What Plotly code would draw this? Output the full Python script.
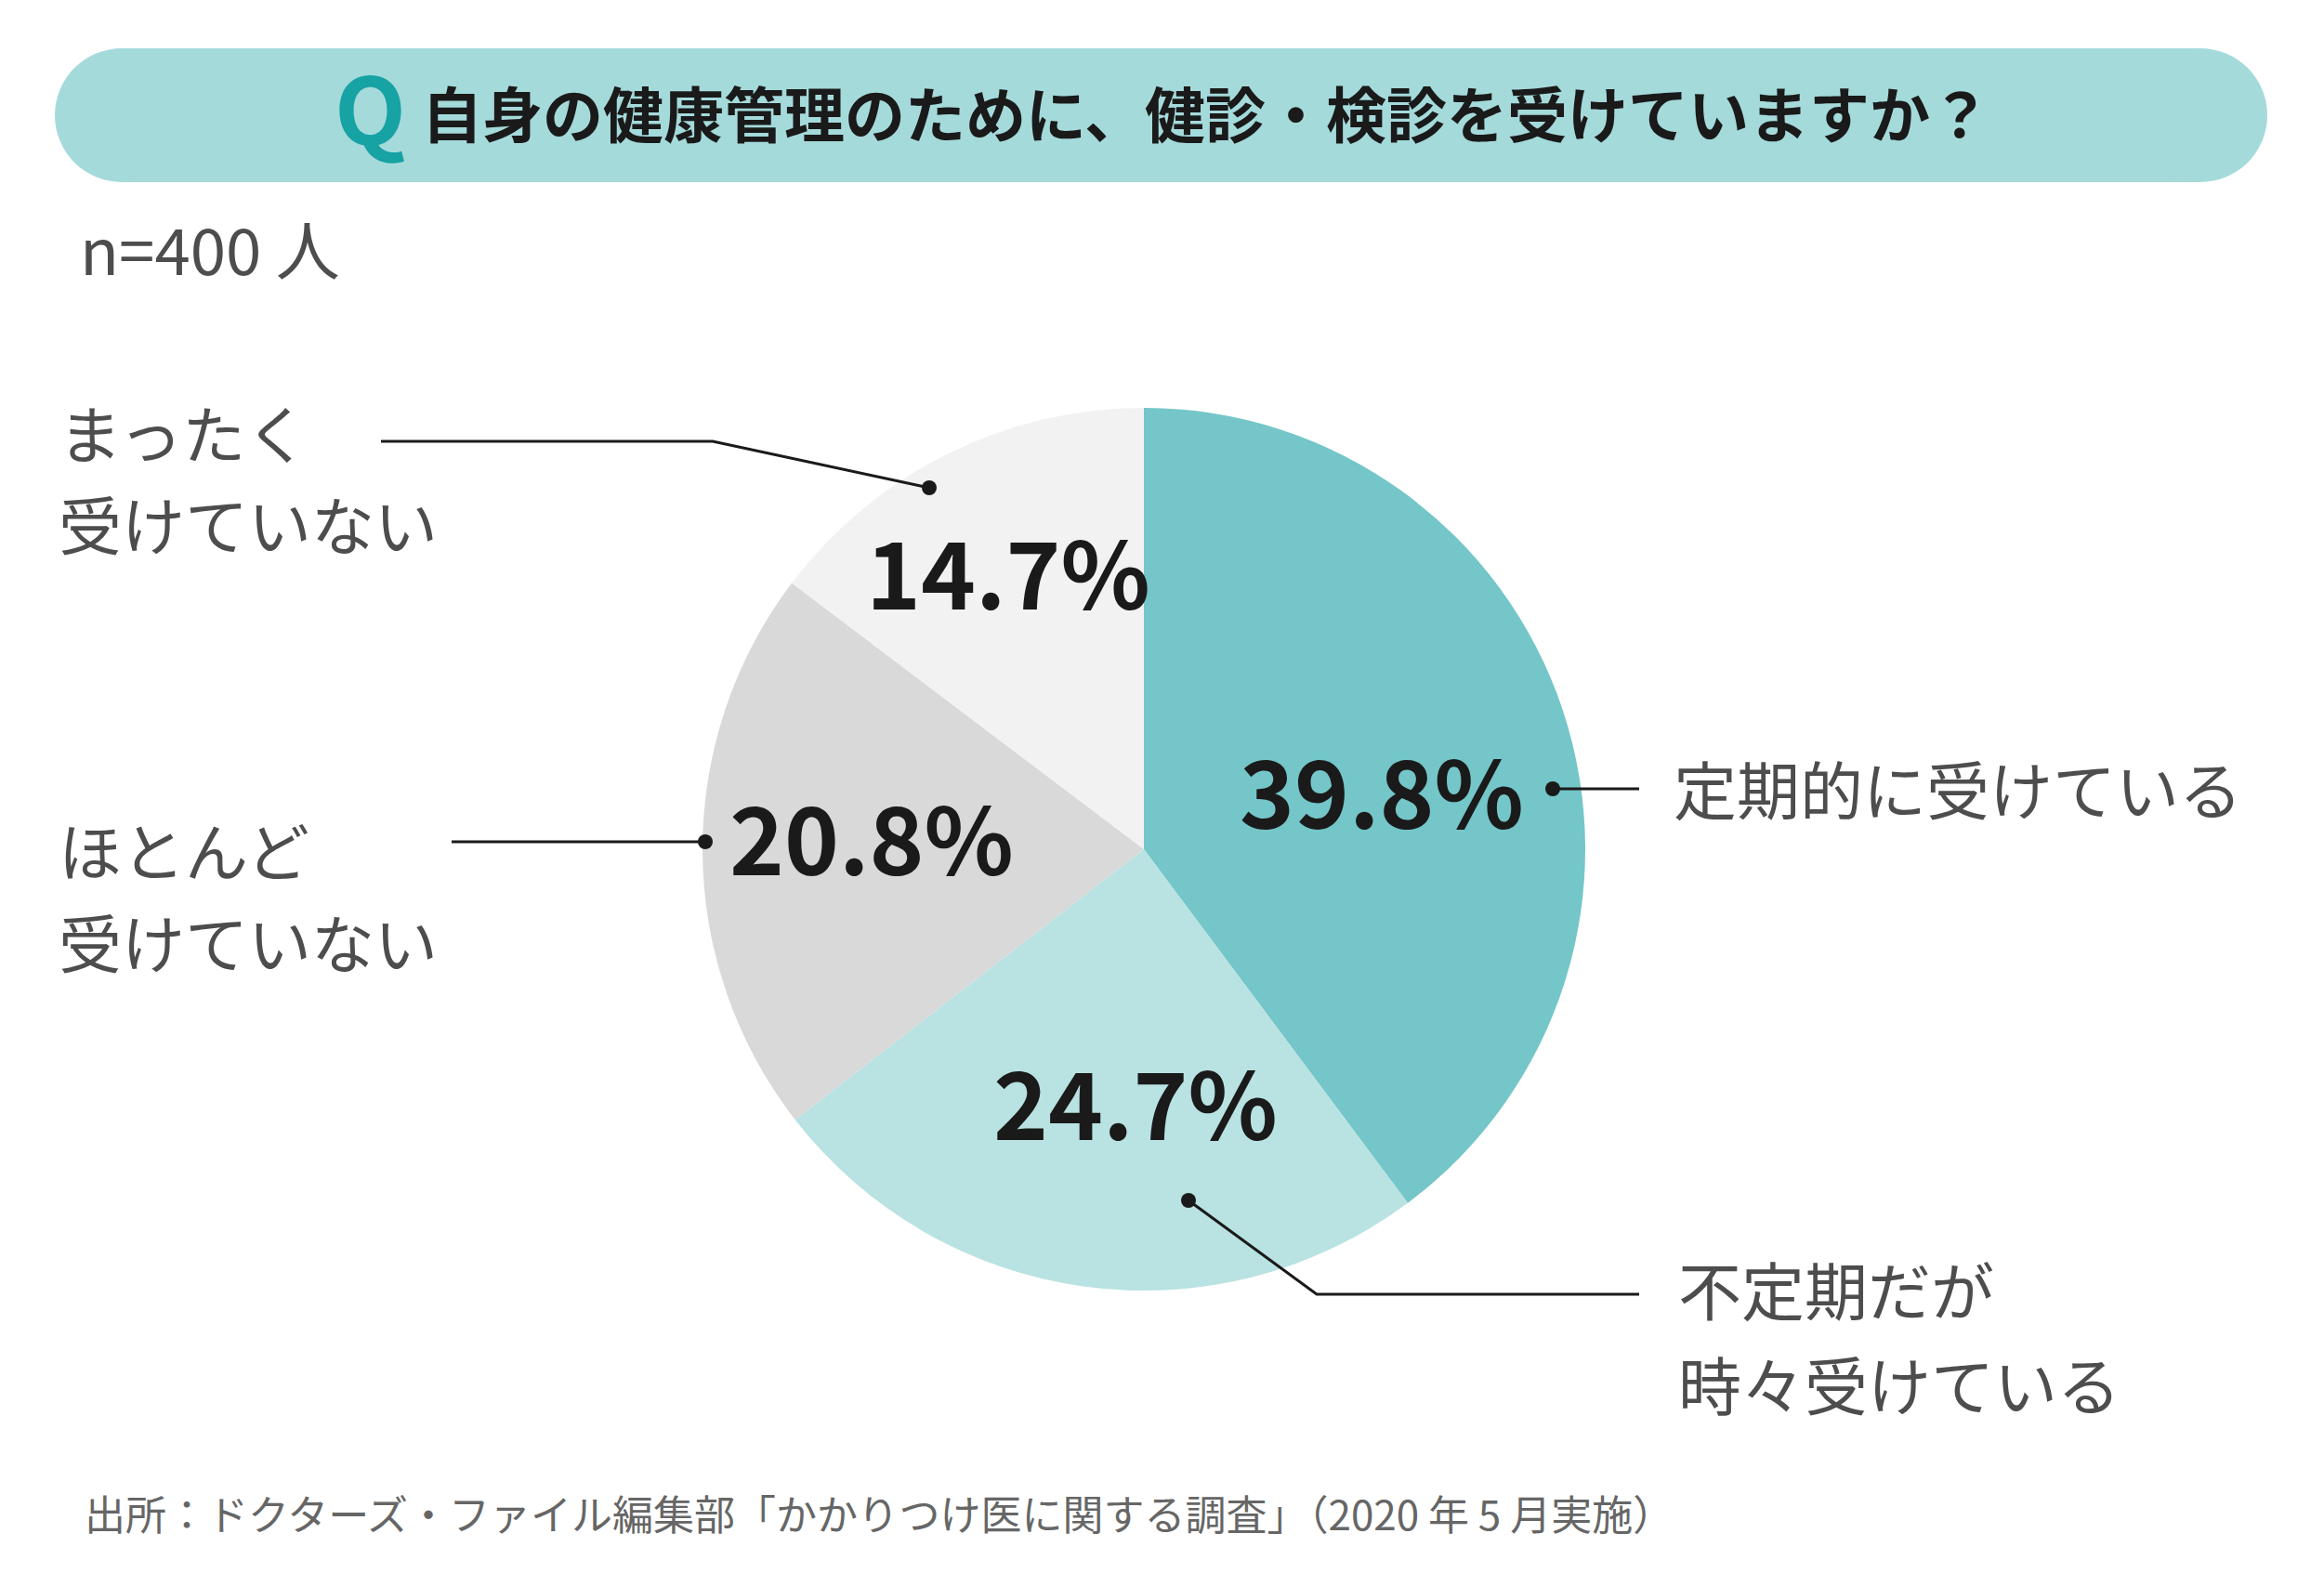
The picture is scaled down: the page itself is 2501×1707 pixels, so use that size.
import plotly.graph_objects as go

# ---- data ----
categories = ["定期的に受けている", "不定期だが時々受けている", "ほとんど受けていない", "まったく受けていない"]
values = [39.8, 24.7, 20.8, 14.7]
label_lines = [["定期的に受けている"], ["不定期だが", "時々受けている"], ["ほとんど", "受けていない"], ["まったく", "受けていない"]]
title_text = "自身の健康管理のために、健診・検診を受けていますか？"
sample_text = "n=400 人"
source_text = "出所：ドクターズ・ファイル編集部「かかりつけ医に関する調査」（2020 年 5 月実施）"

# ---- style / layout ----
W, H = 2501, 1707
OFF = 8      # page body margin
TY = -6      # text baseline correction
colors = ["#74C6C8", "#B9E2E2", "#D9D9D9", "#F2F2F2"]
FONT = "Noto Sans CJK JP, Noto Sans, sans-serif"
cx, cy, R = 1231, 914, 475

def px(x):
    return (x - OFF) / W

def py(y):
    return 1 - (y - OFF) / H

def ty(y):
    return py(y + TY)

# percent label centers (pixels)
pct_pos = [(1487, 854), (1222, 1189), (938, 904), (1085, 618)]
# category label anchors: (x, [y per line], anchor)
cat_pos = [(1799, [853], "left"), (1804, [1392, 1494], "left"),
           (61, [920, 1018], "left"), (61, [470, 568], "left")]
# leader lines (pixel polylines), dot at first point
leaders = [
    [(1671, 849), (1764, 849)],
    [(1279, 1292), (1417, 1393), (1764, 1393)],
    [(759, 906), (486, 906)],
    [(1000, 525), (767, 475), (410, 475)],
]

fig = go.Figure()
fig.add_trace(go.Pie(
    labels=categories, values=values, sort=False, direction="clockwise", rotation=0,
    marker=dict(colors=colors, line=dict(width=0)),
    textinfo="none", hoverinfo="skip", showlegend=False,
    domain=dict(x=[px(cx - R), px(cx + R)], y=[py(cy + R), py(cy - R)]),
))

shapes = []
# title band (pill)
band_l, band_r, band_t, band_b = 59, 2440, 52, 196
rr = (band_b - band_t) / 2
band_col = "#A5DADB"
shapes.append(dict(type="rect", xref="paper", yref="paper", x0=px(band_l + rr), x1=px(band_r - rr),
                   y0=py(band_b), y1=py(band_t), fillcolor=band_col, line=dict(width=0), layer="below"))
for ccx in (band_l + rr, band_r - rr):
    shapes.append(dict(type="circle", xref="paper", yref="paper", x0=px(ccx - rr), x1=px(ccx + rr),
                       y0=py(band_b), y1=py(band_t), fillcolor=band_col, line=dict(width=0), layer="below"))

for pts in leaders:
    path = "M " + " L ".join(f"{px(x)},{py(y)}" for x, y in pts)
    shapes.append(dict(type="path", xref="paper", yref="paper", path=path,
                       line=dict(color="#1a1a1a", width=3)))
    dx, dy = pts[0]
    r = 8
    shapes.append(dict(type="circle", xref="paper", yref="paper", x0=px(dx - r), x1=px(dx + r),
                       y0=py(dy + r), y1=py(dy - r), fillcolor="#1a1a1a", line=dict(width=0)))

annotations = []
# Q and title
annotations.append(dict(text="<b>Q</b>", x=px(398), y=ty(118), xref="paper", yref="paper",
                        showarrow=False, xanchor="center", yanchor="middle",
                        font=dict(family=FONT, size=100, color="#17A2A3")))
annotations.append(dict(text="<b>" + title_text + "</b>", x=px(452), y=ty(126), xref="paper", yref="paper",
                        showarrow=False, xanchor="left", yanchor="middle",
                        font=dict(family=FONT, size=65, color="#1a1a1a")))
annotations.append(dict(text=sample_text, x=px(84), y=ty(272), xref="paper", yref="paper",
                        showarrow=False, xanchor="left", yanchor="middle",
                        font=dict(family=FONT, size=69, color="#4d4d4d")))
annotations.append(dict(text=source_text, x=px(89), y=ty(1634), xref="paper", yref="paper",
                        showarrow=False, xanchor="left", yanchor="middle",
                        font=dict(family=FONT, size=44, color="#666666")))

for v, (x, y) in zip(values, pct_pos):
    annotations.append(dict(text=f"<b>{v:.1f}%</b>", x=px(x), y=ty(y), xref="paper", yref="paper",
                            showarrow=False, xanchor="center", yanchor="middle",
                            font=dict(family=FONT, size=100, color="#1a1a1a")))

for lines, (x, ys, anc) in zip(label_lines, cat_pos):
    for t, y in zip(lines, ys):
        annotations.append(dict(text=t, x=px(x), y=ty(y), xref="paper", yref="paper",
                                showarrow=False, xanchor=anc, yanchor="middle",
                                font=dict(family=FONT, size=68, color="#4d4d4d")))

fig.update_layout(
    width=W, height=H, margin=dict(l=0, r=0, t=0, b=0),
    paper_bgcolor="white", plot_bgcolor="white",
    shapes=shapes, annotations=annotations, showlegend=False,
)
fig.write_html("out.html")
